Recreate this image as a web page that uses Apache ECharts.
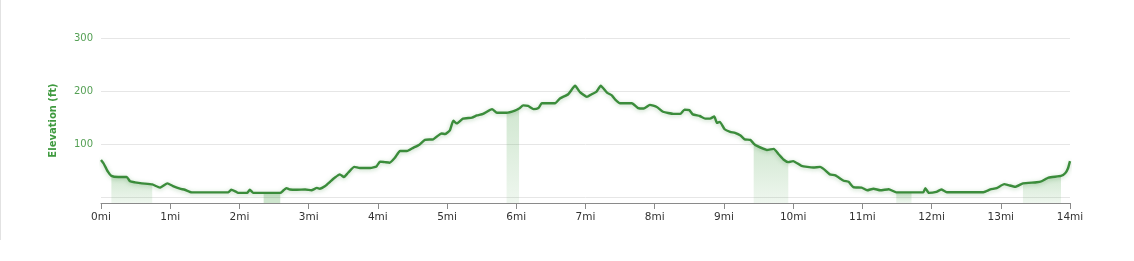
<!DOCTYPE html>
<html>
<head>
<meta charset="utf-8">
<script src="https://cdn.jsdelivr.net/npm/echarts@6/dist/echarts.min.js"></script>
<style>
html,body{margin:0;padding:0;background:#fff;}
#chart{width:1134px;height:261px;}
</style>
</head>
<body>
<div id="chart"></div>
<script>
// Distance along the trail (miles)
const miles = [0.00,0.04,0.10,0.15,0.25,0.37,0.42,0.49,0.59,0.74,0.85,0.96,1.04,1.14,1.21,1.31,1.84,1.88,1.94,1.98,2.11,2.15,2.20,2.35,2.59,2.63,2.68,2.73,2.83,2.95,3.04,3.12,3.16,3.24,3.31,3.38,3.45,3.51,3.57,3.66,3.74,3.89,3.98,4.03,4.10,4.17,4.25,4.32,4.42,4.51,4.60,4.68,4.80,4.85,4.92,4.97,5.04,5.09,5.14,5.23,5.36,5.43,5.52,5.65,5.72,5.86,5.98,6.04,6.10,6.17,6.25,6.32,6.37,6.56,6.63,6.75,6.85,6.92,7.02,7.09,7.16,7.22,7.31,7.38,7.43,7.50,7.67,7.76,7.84,7.93,8.03,8.12,8.27,8.37,8.43,8.50,8.55,8.65,8.73,8.80,8.86,8.90,8.94,9.01,9.09,9.16,9.24,9.30,9.38,9.43,9.47,9.62,9.72,9.79,9.86,9.93,10.00,10.12,10.29,10.39,10.46,10.53,10.61,10.73,10.80,10.87,10.99,11.07,11.16,11.26,11.38,11.49,11.71,11.88,11.91,11.96,12.07,12.14,12.22,12.75,12.85,12.94,13.05,13.11,13.21,13.32,13.52,13.59,13.69,13.87,13.93,13.97,14.00];
// Elevation (ft)
const elevation = [70,63,48,40,38,38,30,28,26,24,18,26,21,16,14,9,9,14,11,8,8,14,8,8,8,12,17,14.5,14,14.5,13,17.5,16,21,29,37,43,38,46,57,55,55,58,67,66,65,75,87,87,93,99,108,109,114,120,119,126,144,139,148,150,154,157,166,159,159,163,167,173,172,166,168,177,177,186,194,210,198,189,194,199,210,197,192,184,177,177,168,167,174,170,161,157,157,165,164,156,153,148,148,152,140,142,128,123,121,116,109,108,101,97,89,91,81,71,66,68,59,56,57,51,43,41,31,29,19,18,13,16,13,15,9,9,9,17,8,10,14.5,9.4,9.4,14.5,17,24.5,22.6,19.5,26,28,30,37,40,45,54,68];
// Highlighted segments (miles)
const bandStarts = [0.15, 2.35, 5.86, 9.43, 11.49, 13.32];
const bandEnds   = [0.74, 2.59, 6.04, 9.93, 11.71, 13.87];
// Axis ticks
const xTicks = [0,1,2,3,4,5,6,7,8,9,10,11,12,13,14];
const yGridValues = [0,100,200,300];
const yLabelValues = [100,200,300];

const profile = miles.map((m, i) => [m, elevation[i]]);

const bandSeries = bandStarts.map((s, k) => {
  const e = bandEnds[k];
  const strong = (k === 1);
  return {
    type: 'line',
    data: profile.filter(p => p[0] >= s - 1e-9 && p[0] <= e + 1e-9),
    symbol: 'none',
    smooth: 0.15,
    silent: true,
    z: 1,
    lineStyle: { width: 0, opacity: 0 },
    areaStyle: {
      origin: 'start',
      color: strong ? 'rgba(90,170,90,0.42)' : {
        type: 'linear', x: 0, y: 0, x2: 0, y2: 1,
        colorStops: [
          { offset: 0, color: 'rgba(90,170,90,0.40)' },
          { offset: 1, color: 'rgba(90,170,90,0.14)' }
        ]
      }
    }
  };
});

const chart = echarts.init(document.getElementById('chart'), null, { renderer: 'canvas' });
chart.setOption({
  animation: false,
  backgroundColor: '#fff',
  graphic: [{
    type: 'line',
    shape: { x1: 0.5, y1: 0, x2: 0.5, y2: 240 },
    style: { stroke: '#e2e2e2', lineWidth: 1 }
  }],
  grid: { left: 101, right: 64, top: 38, bottom: 58, containLabel: false },
  xAxis: {
    type: 'value',
    min: 0, max: 14, interval: 1,
    axisLine: { show: true, onZero: false, lineStyle: { color: '#8a8a8a', width: 1 } },
    axisTick: { show: true, length: 6, lineStyle: { color: '#8a8a8a' }, customValues: xTicks },
    axisLabel: {
      customValues: xTicks,
      formatter: v => v + 'mi',
      color: '#333', fontSize: 10.5, fontFamily: 'DejaVu Sans', margin: 9
    },
    splitLine: { show: false }
  },
  yAxis: {
    type: 'value',
    min: -11, max: 300,
    name: 'Elevation (ft)',
    nameLocation: 'middle',
    nameGap: 43,
    nameRotate: 90,
    nameTextStyle: { color: '#3f9a3f', fontWeight: 'bold', fontSize: 10, fontFamily: 'DejaVu Sans' },
    axisLine: { show: false },
    axisTick: { show: false, customValues: yGridValues },
    axisLabel: {
      customValues: yLabelValues,
      color: '#55a055', fontSize: 10, fontFamily: 'DejaVu Sans', margin: 8
    },
    splitLine: { show: true, lineStyle: { color: '#e6e6e6', width: 1 } }
  },
  series: bandSeries.concat([{
    type: 'line',
    data: profile,
    symbol: 'none',
    smooth: 0.15,
    z: 5,
    lineStyle: {
      color: '#3b8c3b', width: 2.4, join: 'round',
      shadowColor: 'rgba(60,140,60,0.35)', shadowBlur: 4, shadowOffsetY: 1
    }
  }])
});
</script>
</body>
</html>
